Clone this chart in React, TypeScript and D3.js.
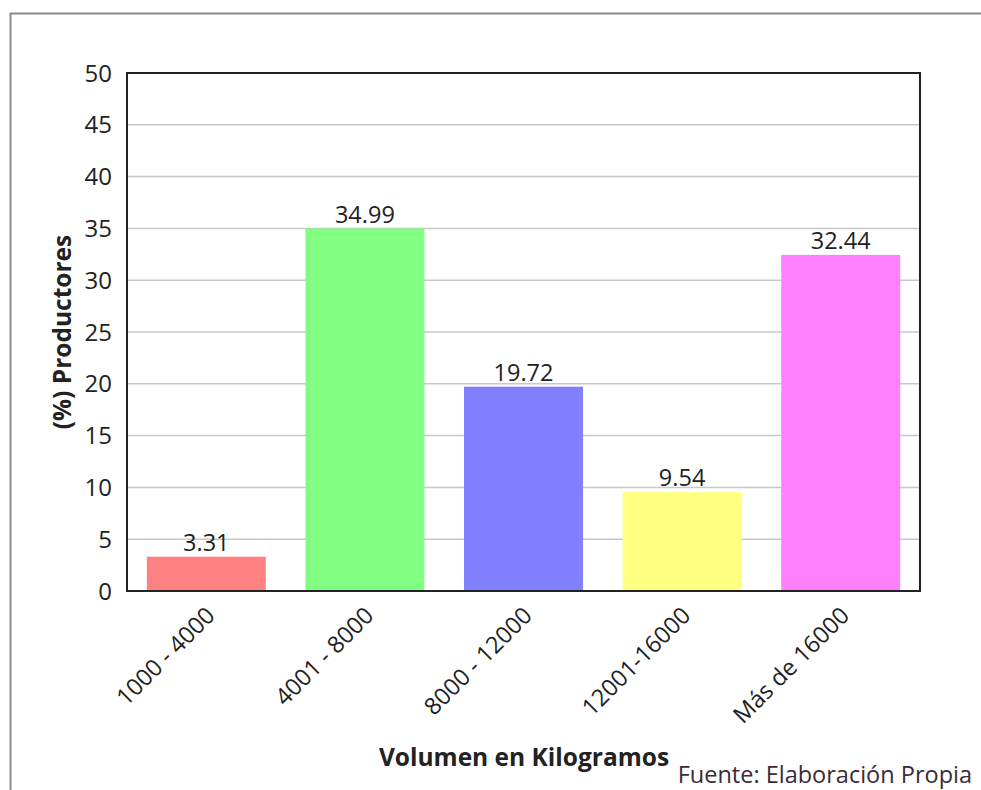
import React, { useEffect, useRef } from "react";
import * as d3 from "d3";

const categories = ["1000 - 4000", "4001 - 8000", "8000 - 12000", "12001-16000", "Más de 16000"];
const values = [3.31, 34.99, 19.72, 9.54, 32.44];
const colors = ["#ff8080", "#80ff80", "#8080ff", "#ffff80", "#ff80ff"];
const yTicks = [0, 5, 10, 15, 20, 25, 30, 35, 40, 45, 50];
const yTitle = "(%) Productores";
const xTitle = "Volumen en Kilogramos";
const source = "Fuente: Elaboración Propia";

const W = 981;
const H = 790;
const FONT = "'Open Sans', sans-serif";

export default function App() {
  const ref = useRef<SVGSVGElement>(null);
  useEffect(() => {
    const svg = d3.select(ref.current);
    svg.selectAll("*").remove();
    const left = 127, right = 920, top = 73, bottom = 591;
    const x = d3.scaleBand<string>().domain(categories).range([left, right]).paddingInner(0.25).paddingOuter(0.125);
    const y = d3.scaleLinear().domain([0, 50]).range([bottom, top]);

    // outer frame
    svg.append("path").attr("d", `M10.5,${H + 5} V13.5 H${W + 5}`).attr("fill", "none").attr("stroke", "#8a8a8a").attr("stroke-width", 2);

    // gridlines
    svg.append("g").selectAll("line").data(yTicks.filter((t) => t > 0 && t < 50)).join("line")
      .attr("x1", left).attr("x2", right).attr("y1", (d) => y(d)).attr("y2", (d) => y(d))
      .attr("stroke", "#c8c8c8").attr("stroke-width", 1.5);

    // bars
    svg.append("g").selectAll("rect").data(values).join("rect")
      .attr("x", (_, i) => x(categories[i])!).attr("width", x.bandwidth())
      .attr("y", (d) => y(d)).attr("height", (d) => bottom - y(d))
      .attr("fill", (_, i) => colors[i]);

    // data labels
    svg.append("g").selectAll("text").data(values).join("text")
      .attr("x", (_, i) => x(categories[i])! + x.bandwidth() / 2)
      .attr("y", (d) => y(d) - 6)
      .attr("text-anchor", "middle").attr("font-family", FONT).attr("font-size", 23.5).attr("fill", "#222")
      .text((d) => d.toFixed(2));

    // plot frame
    svg.append("rect").attr("x", left).attr("y", top).attr("width", right - left).attr("height", bottom - top)
      .attr("fill", "none").attr("stroke", "#222").attr("stroke-width", 2);

    // y tick labels
    svg.append("g").selectAll("text").data(yTicks).join("text")
      .attr("x", left - 15).attr("y", (d) => y(d)).attr("dy", "0.36em")
      .attr("text-anchor", "end").attr("font-family", FONT).attr("font-size", 24).attr("fill", "#222")
      .text((d) => String(d));

    // x tick labels
    svg.append("g").selectAll("text").data(categories).join("text")
      .attr("transform", (d) => `translate(${x(d)! + x.bandwidth() / 2 + 4},${bottom + 20}) rotate(-45)`)
      .attr("text-anchor", "end").attr("dy", "0.36em").attr("font-family", FONT).attr("font-size", 23.5).attr("fill", "#222")
      .text((d) => d);

    // axis titles
    svg.append("text").attr("transform", `translate(62,${(top + bottom) / 2}) rotate(-90)`)
      .attr("text-anchor", "middle").attr("dy", "0.36em").attr("font-family", FONT).attr("font-weight", "bold").attr("font-size", 24.5).attr("fill", "#222")
      .text(yTitle);
    svg.append("text").attr("x", 524).attr("y", 766)
      .attr("text-anchor", "middle").attr("font-family", FONT).attr("font-weight", "bold").attr("font-size", 24.5).attr("fill", "#222")
      .text(xTitle);
    svg.append("text").attr("x", 972).attr("y", 783)
      .attr("text-anchor", "end").attr("font-family", FONT).attr("font-size", 23.5).attr("fill", "#3a2a3a")
      .text(source);
  }, []);
  return (
    <svg ref={ref} width={W} height={H} style={{ position: "absolute", left: 0, top: 0, display: "block", background: "#fff" }} />
  );
}
